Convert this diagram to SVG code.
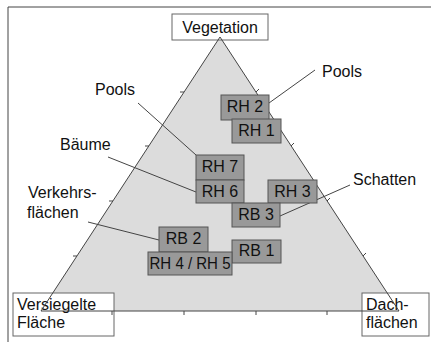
<svg xmlns="http://www.w3.org/2000/svg" width="431" height="342" viewBox="0 0 431 342">
<style>
text{font-family:"Liberation Sans",Arial,sans-serif;font-size:16px;fill:#111}
.lbl{fill:#fff;stroke:#666;stroke-width:1}
.rb{fill:#999;stroke:#555;stroke-width:1}
.ln{stroke:#444;stroke-width:1;fill:none}
.c{text-anchor:middle}
</style>
<rect width="431" height="342" fill="#fff"/>
<path d="M8 342 V7 H431" class="ln" stroke-width="1.5"/>
<polygon id="triangle-fill" points="220,37 41,311 399,311" fill="#dcdcdc"/>
<g id="label-vegetation"><rect class="lbl" x="172" y="14" width="96" height="26"/><text class="c" x="220" y="33">Vegetation</text></g>
<g id="label-versiegelte"><rect class="lbl" x="13" y="293" width="101" height="43"/><text x="17" y="310">Versiegelte</text><text x="17" y="328">Fläche</text></g>
<g id="label-dach"><rect class="lbl" x="362" y="293" width="67" height="43"/><text x="366" y="310">Dach-</text><text x="366" y="328">flächen</text></g>
<g id="triangle">
<polygon points="220,37 41,311 399,311" class="ln"/>
<path class="ln" d="M112,311v4M184,311v4M256,311v4M327,311v4M184,92h-4M149,146h-4M113,201h-4M77,256h-4M256,92l3,-3M291,146l3,-3M327,201l3,-3M363,256l3,-3"/>
</g>
<g id="connectors" class="ln">
<line x1="315" y1="70" x2="269" y2="103"/>
<line x1="138" y1="103" x2="196" y2="155"/>
<line x1="108" y1="157" x2="196" y2="192"/>
<line x1="88" y1="222" x2="159" y2="240"/>
<line x1="350" y1="185" x2="280" y2="216"/>
</g>
<g id="text-pools-right"><text x="322" y="77">Pools</text></g>
<g id="text-pools-left"><text x="95" y="95">Pools</text></g>
<g id="text-baeume"><text x="60" y="150">Bäume</text></g>
<g id="text-verkehr"><text x="28" y="198">Verkehrs-</text><text x="27" y="218">flächen</text></g>
<g id="text-schatten"><text x="353" y="185">Schatten</text></g>
<g id="rh2"><rect class="rb" x="221" y="95" width="48" height="25"/><text class="c" x="245" y="112">RH 2</text></g>
<g id="rh1"><rect class="rb" x="232" y="119" width="49" height="24"/><text class="c" x="256.5" y="136">RH 1</text></g>
<g id="rh7"><rect class="rb" x="196" y="155" width="48" height="25"/><text class="c" x="220" y="172">RH 7</text></g>
<g id="rh6"><rect class="rb" x="196" y="180" width="48" height="23"/><text class="c" x="220" y="197">RH 6</text></g>
<g id="rh3"><rect class="rb" x="268" y="180" width="49" height="23"/><text class="c" x="292.5" y="197">RH 3</text></g>
<g id="rb3"><rect class="rb" x="232" y="203" width="48" height="24"/><text class="c" x="256" y="220">RB 3</text></g>
<g id="rb2"><rect class="rb" x="159" y="227" width="49" height="25"/><text class="c" x="183.5" y="244">RB 2</text></g>
<g id="rb1"><rect class="rb" x="232" y="240" width="49" height="23"/><text class="c" x="256.5" y="256">RB 1</text></g>
<g id="rh45"><rect class="rb" x="148" y="252" width="84" height="23"/><text class="c" x="190" y="269" textLength="81" lengthAdjust="spacingAndGlyphs">RH 4 / RH 5</text></g>
</svg>
